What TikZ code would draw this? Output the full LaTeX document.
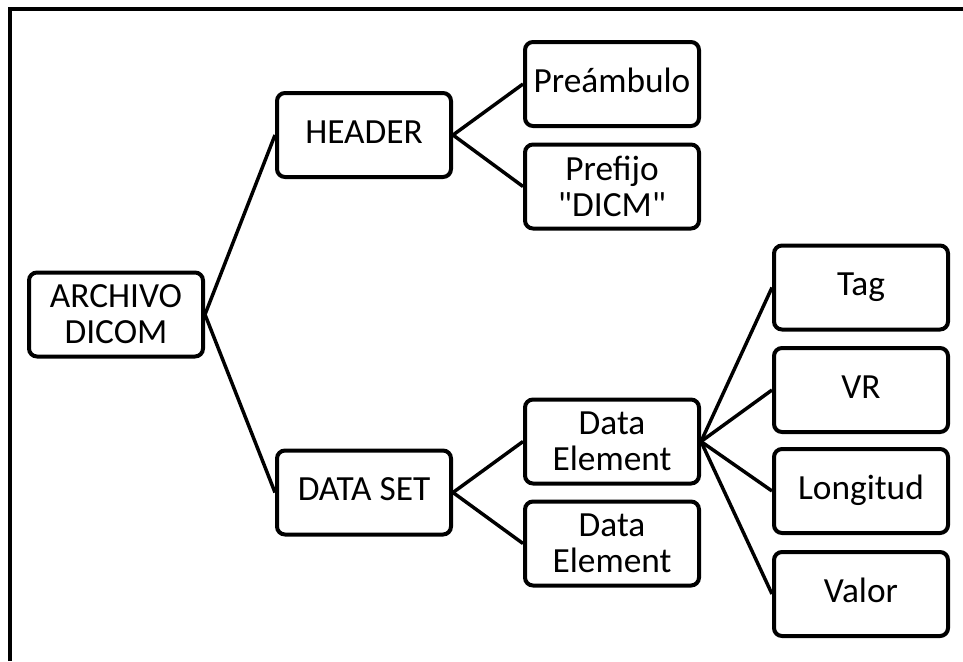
\documentclass[tikz,border=0pt]{standalone}
\usepackage{fontspec}
\setmainfont{Carlito}[Ligatures=TeXOff]
\begin{document}
\begin{tikzpicture}[x=0.75pt,y=-0.75pt,
  box/.style={draw=black, line width=3pt, rounded corners=6pt, fill=white,
    minimum width=130.5pt, minimum height=63pt, align=center, inner sep=2pt,
    font=\fontsize{26.5pt}{27pt}\selectfont},
  oneline/.style={box, text height=17pt, text depth=5pt},
  conn/.style={draw=black, line width=2.6pt},
  frame/.style={draw=black, line width=3pt}]
\useasboundingbox (0,0) rectangle (963,661);
\coordinate (fa) at (10,661);
\coordinate (fb) at (10,9);
\coordinate (fc) at (963,9);
\draw[frame] (fa) -- (fb) -- (fc);
\node[box] (arch) at (116,314.5) {ARCHIVO\\DICOM};
\node[oneline] (header) at (364,135) {HEADER};
\node[oneline] (dataset) at (364,492.5) {DATA SET};
\node[oneline] (pre) at (612,84) {Preámbulo};
\node[box] (pref) at (612,186.5) {Prefijo\\"DICM"};
\node[box] (de1) at (612,441.5) {Data\\Element};
\node[box] (de2) at (612,543.5) {Data\\Element};
\node[oneline] (tag) at (861,287.5) {Tag};
\node[oneline] (vr) at (861,390) {VR};
\node[oneline] (lon) at (861,491) {Longitud};
\node[oneline] (val) at (861,594) {Valor};
\draw[conn] (arch.east) -- (header.west);
\draw[conn] (arch.east) -- (dataset.west);
\draw[conn] (header.east) -- (pre.west);
\draw[conn] (header.east) -- (pref.west);
\draw[conn] (dataset.east) -- (de1.west);
\draw[conn] (dataset.east) -- (de2.west);
\draw[conn] (de1.east) -- (tag.west);
\draw[conn] (de1.east) -- (vr.west);
\draw[conn] (de1.east) -- (lon.west);
\draw[conn] (de1.east) -- (val.west);
\end{tikzpicture}
\end{document}
